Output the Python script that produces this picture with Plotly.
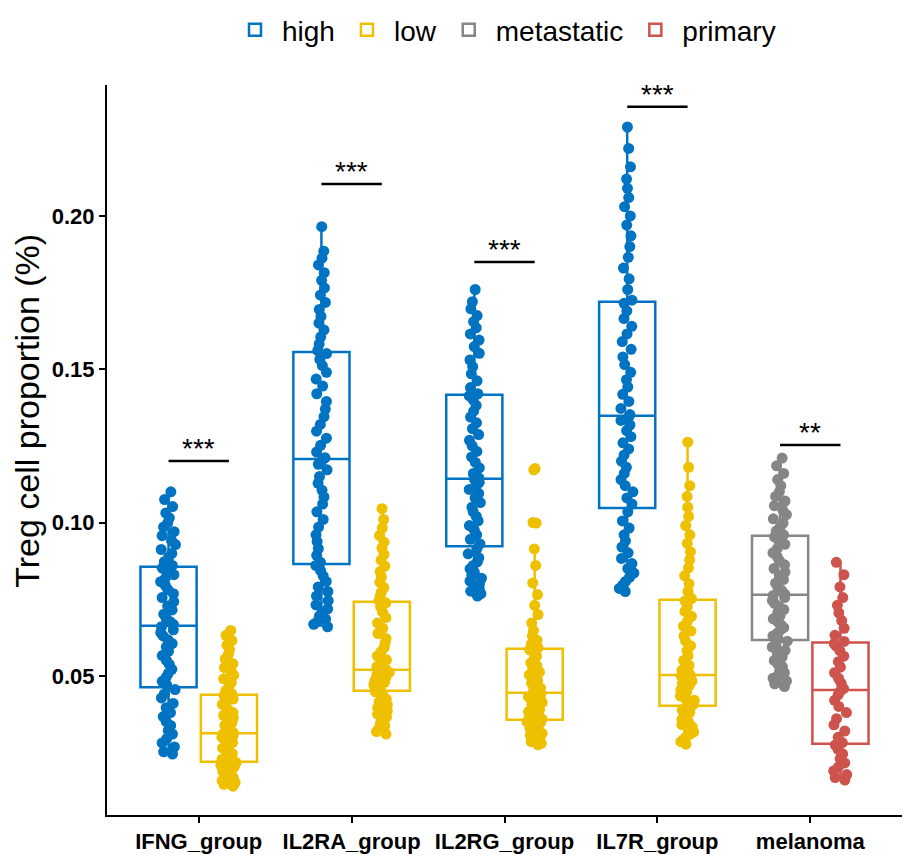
import plotly.graph_objects as go

categories = ["IFNG_group", "IL2RA_group", "IL2RG_group", "IL7R_group", "melanoma"]

ifng_high = [0.0245, 0.0252, 0.0268, 0.0281, 0.0295, 0.0310, 0.0322, 0.0338, 0.0351, 0.0367, 0.0380, 0.0396, 0.0410, 0.0428, 0.0441, 0.0455,
             0.0470, 0.0482, 0.0495, 0.0508, 0.0521, 0.0537, 0.0550, 0.0566, 0.0580, 0.0594, 0.0605, 0.0618, 0.0630, 0.0641, 0.0650, 0.0660,
             0.0667, 0.0676, 0.0688, 0.0701, 0.0715, 0.0728, 0.0742, 0.0755, 0.0768, 0.0781, 0.0794, 0.0807, 0.0818, 0.0830, 0.0841, 0.0851,
             0.0860, 0.0872, 0.0886, 0.0899, 0.0912, 0.0928, 0.0941, 0.0957, 0.0970, 0.0985, 0.0999, 0.1015, 0.1031, 0.1052, 0.1075, 0.1100]
ifng_low = [0.0140, 0.0146, 0.0152, 0.0158, 0.0163, 0.0168, 0.0173, 0.0178, 0.0183, 0.0188, 0.0193, 0.0198, 0.0203, 0.0208, 0.0213, 0.0217,
            0.0222, 0.0228, 0.0234, 0.0240, 0.0246, 0.0252, 0.0258, 0.0264, 0.0270, 0.0276, 0.0282, 0.0288, 0.0294, 0.0300, 0.0305, 0.0310,
            0.0315, 0.0323, 0.0331, 0.0339, 0.0347, 0.0355, 0.0363, 0.0371, 0.0380, 0.0389, 0.0398, 0.0407, 0.0416, 0.0424, 0.0431, 0.0436,
            0.0441, 0.0452, 0.0465, 0.0478, 0.0490, 0.0502, 0.0515, 0.0527, 0.0540, 0.0555, 0.0570, 0.0585, 0.0600, 0.0615, 0.0632, 0.0648]
il2ra_high = [0.0660, 0.0668, 0.0676, 0.0685, 0.0695, 0.0706, 0.0718, 0.0731, 0.0745, 0.0760, 0.0775, 0.0790, 0.0808, 0.0826, 0.0843, 0.0860,
              0.0870, 0.0893, 0.0915, 0.0938, 0.0960, 0.0985, 0.1010, 0.1035, 0.1060, 0.1083, 0.1105, 0.1128, 0.1150, 0.1172, 0.1190, 0.1203,
              0.1211, 0.1230, 0.1252, 0.1275, 0.1298, 0.1320, 0.1345, 0.1370, 0.1395, 0.1420, 0.1445, 0.1468, 0.1490, 0.1512, 0.1532, 0.1551,
              0.1561, 0.1582, 0.1605, 0.1628, 0.1650, 0.1672, 0.1695, 0.1718, 0.1742, 0.1765, 0.1790, 0.1815, 0.1840, 0.1862, 0.1885, 0.1965]
il2ra_low = [0.0310, 0.0318, 0.0327, 0.0336, 0.0345, 0.0355, 0.0365, 0.0375, 0.0385, 0.0395, 0.0405, 0.0415, 0.0424, 0.0433, 0.0441, 0.0448,
             0.0454, 0.0458, 0.0462, 0.0466, 0.0470, 0.0474, 0.0479, 0.0484, 0.0489, 0.0494, 0.0499, 0.0503, 0.0507, 0.0511, 0.0515, 0.0518,
             0.0521, 0.0530, 0.0540, 0.0552, 0.0565, 0.0578, 0.0592, 0.0607, 0.0622, 0.0638, 0.0655, 0.0672, 0.0690, 0.0708, 0.0725, 0.0738,
             0.0745, 0.0758, 0.0772, 0.0788, 0.0805, 0.0822, 0.0840, 0.0858, 0.0877, 0.0896, 0.0916, 0.0936, 0.0958, 0.0982, 0.1010, 0.1045]
il2rg_high = [0.0760, 0.0768, 0.0776, 0.0784, 0.0792, 0.0800, 0.0809, 0.0818, 0.0828, 0.0838, 0.0849, 0.0860, 0.0872, 0.0885, 0.0898, 0.0915,
              0.0930, 0.0945, 0.0960, 0.0975, 0.0990, 0.1005, 0.1020, 0.1035, 0.1050, 0.1065, 0.1080, 0.1095, 0.1108, 0.1120, 0.1131, 0.1140,
              0.1145, 0.1160, 0.1178, 0.1196, 0.1214, 0.1232, 0.1250, 0.1268, 0.1287, 0.1306, 0.1325, 0.1344, 0.1363, 0.1382, 0.1400, 0.1413,
              0.1420, 0.1440, 0.1462, 0.1485, 0.1508, 0.1530, 0.1552, 0.1574, 0.1595, 0.1615, 0.1635, 0.1655, 0.1675, 0.1697, 0.1720, 0.1760]
il2rg_low = [0.0275, 0.0280, 0.0285, 0.0290, 0.0295, 0.0300, 0.0306, 0.0312, 0.0318, 0.0324, 0.0330, 0.0336, 0.0341, 0.0346, 0.0350, 0.0354,
             0.0359, 0.0365, 0.0371, 0.0377, 0.0383, 0.0389, 0.0395, 0.0401, 0.0407, 0.0413, 0.0419, 0.0425, 0.0431, 0.0436, 0.0440, 0.0443,
             0.0446, 0.0452, 0.0460, 0.0468, 0.0476, 0.0485, 0.0494, 0.0503, 0.0512, 0.0522, 0.0532, 0.0542, 0.0553, 0.0564, 0.0575, 0.0585,
             0.0592, 0.0603, 0.0616, 0.0630, 0.0648, 0.0672, 0.0700, 0.0730, 0.0765, 0.0803, 0.0860, 0.0914, 0.0998, 0.1000, 0.1172, 0.1176]
il7r_high = [0.0775, 0.0785, 0.0796, 0.0808, 0.0821, 0.0835, 0.0850, 0.0866, 0.0883, 0.0901, 0.0920, 0.0940, 0.0960, 0.0982, 0.1005, 0.1035,
             0.1060, 0.1080, 0.1100, 0.1120, 0.1140, 0.1160, 0.1180, 0.1200, 0.1220, 0.1240, 0.1260, 0.1280, 0.1300, 0.1318, 0.1333, 0.1345,
             0.1352, 0.1372, 0.1395, 0.1418, 0.1442, 0.1466, 0.1490, 0.1515, 0.1540, 0.1565, 0.1590, 0.1615, 0.1640, 0.1665, 0.1690, 0.1715,
             0.1725, 0.1760, 0.1795, 0.1830, 0.1865, 0.1900, 0.1935, 0.1970, 0.2000, 0.2030, 0.2060, 0.2090, 0.2120, 0.2160, 0.2220, 0.2290]
il7r_low = [0.0277, 0.0285, 0.0293, 0.0301, 0.0309, 0.0317, 0.0325, 0.0333, 0.0341, 0.0349, 0.0357, 0.0365, 0.0373, 0.0381, 0.0389, 0.0398,
            0.0406, 0.0413, 0.0420, 0.0427, 0.0434, 0.0441, 0.0448, 0.0455, 0.0462, 0.0469, 0.0476, 0.0483, 0.0489, 0.0495, 0.0499, 0.0502,
            0.0504, 0.0518, 0.0534, 0.0550, 0.0566, 0.0582, 0.0598, 0.0614, 0.0630, 0.0646, 0.0662, 0.0678, 0.0694, 0.0710, 0.0726, 0.0744,
            0.0752, 0.0775, 0.0800, 0.0826, 0.0852, 0.0878, 0.0905, 0.0932, 0.0960, 0.0990, 0.1020, 0.1050, 0.1085, 0.1120, 0.1180, 0.1262]
melanoma_metastatic = [0.0465, 0.0474, 0.0483, 0.0492, 0.0501, 0.0510, 0.0520, 0.0530, 0.0540, 0.0550, 0.0561, 0.0572, 0.0583, 0.0594, 0.0604, 0.0613,
                       0.0621, 0.0630, 0.0639, 0.0648, 0.0657, 0.0666, 0.0676, 0.0686, 0.0696, 0.0706, 0.0716, 0.0726, 0.0736, 0.0746, 0.0755, 0.0762,
                       0.0766, 0.0778, 0.0790, 0.0802, 0.0814, 0.0826, 0.0838, 0.0850, 0.0862, 0.0875, 0.0888, 0.0901, 0.0915, 0.0929, 0.0942, 0.0953,
                       0.0960, 0.0972, 0.0985, 0.0998, 0.1012, 0.1026, 0.1040, 0.1055, 0.1070, 0.1085, 0.1100, 0.1120, 0.1140, 0.1160, 0.1185, 0.1210]
melanoma_primary = [0.0160, 0.0168, 0.0178, 0.0190, 0.0203, 0.0216, 0.0230, 0.0245, 0.0260, 0.0274,
                    0.0282, 0.0300, 0.0320, 0.0340, 0.0360, 0.0380, 0.0400, 0.0420, 0.0438, 0.0450,
                    0.0458, 0.0475, 0.0492, 0.0510, 0.0528, 0.0546, 0.0564, 0.0582, 0.0598, 0.0605,
                    0.0612, 0.0632, 0.0655, 0.0680, 0.0705, 0.0730, 0.0755, 0.0790, 0.0830, 0.0870]

sig_labels = ["***", "***", "***", "***", "**"]
sig_heights = [0.1201, 0.2104, 0.1850, 0.2356, 0.1253]

colors = {"high": "#0073C2", "low": "#EFC000", "metastatic": "#868686", "primary": "#CD534C"}

series = [
    ("high", "A", {"IFNG_group": ifng_high, "IL2RA_group": il2ra_high, "IL2RG_group": il2rg_high, "IL7R_group": il7r_high}),
    ("low", "B", {"IFNG_group": ifng_low, "IL2RA_group": il2ra_low, "IL2RG_group": il2rg_low, "IL7R_group": il7r_low}),
    ("metastatic", "A", {"melanoma": melanoma_metastatic}),
    ("primary", "B", {"melanoma": melanoma_primary}),
]

FONT = "Liberation Sans, Arial, sans-serif"
boxgap = 0.21
boxgroupgap = 0.07

fig = go.Figure()
for name, grp, d in series:
    xs, ys = [], []
    for cat, vals in d.items():
        xs += [cat] * len(vals)
        ys += vals
    c = colors[name]
    fig.add_trace(go.Box(
        x=xs, y=ys, name=name, offsetgroup=grp, alignmentgroup="g",
        boxpoints="all", jitter=0.3, pointpos=0, whiskerwidth=0,
        fillcolor="rgba(255,255,255,0)", line=dict(color=c, width=2.5),
        marker=dict(color=c, size=11, opacity=1, line=dict(width=0)),
        hoverinfo="skip",
    ))

off = (1 - boxgap) / 4
for i, (lab, h) in enumerate(zip(sig_labels, sig_heights)):
    fig.add_shape(type="line", xref="x", yref="y", x0=i - off, x1=i + off, y0=h, y1=h,
                  line=dict(color="black", width=2.5))
    fig.add_annotation(x=i, y=h, xref="x", yref="y", text=lab, showarrow=False,
                       yanchor="bottom", yshift=-5, font=dict(family=FONT, size=28, color="black"))

# y-axis title placed as rotated text, slightly above panel centre as in the reference
fig.add_annotation(text="Treg cell proportion (%)", textangle=-90, showarrow=False,
                   xref="paper", yref="paper", x=-0.1, xanchor="center", y=0.553, yanchor="middle",
                   font=dict(family=FONT, size=34, color="black"))

fig.update_layout(
    width=904, height=855,
    margin=dict(l=107, r=2, t=85, b=40),
    paper_bgcolor="white", plot_bgcolor="white",
    boxmode="group", boxgap=boxgap, boxgroupgap=boxgroupgap,
    font=dict(family=FONT, color="black"),
    showlegend=True,
    legend=dict(orientation="h", x=0.5, xanchor="center", y=0.965, yanchor="middle",
                yref="container", font=dict(family=FONT, size=28, color="black"),
                itemwidth=44, traceorder="normal"),
    xaxis=dict(categoryorder="array", categoryarray=categories, range=[-0.6, 4.6],
               showline=True, linecolor="black", linewidth=2, ticks="outside", ticklen=6,
               tickwidth=2, tickcolor="black", showgrid=False, zeroline=False,
               tickfont=dict(family=FONT, size=22, color="black", weight="bold")),
    yaxis=dict(range=[0.0046, 0.2427], tickvals=[0.05, 0.10, 0.15, 0.20], tickformat=".2f",
               showline=True, linecolor="black", linewidth=2, ticks="outside", ticklen=6,
               tickwidth=2, tickcolor="black", showgrid=False, zeroline=False,
               tickfont=dict(family=FONT, size=22, color="black", weight="bold")),
)

fig.write_html("out.html")
